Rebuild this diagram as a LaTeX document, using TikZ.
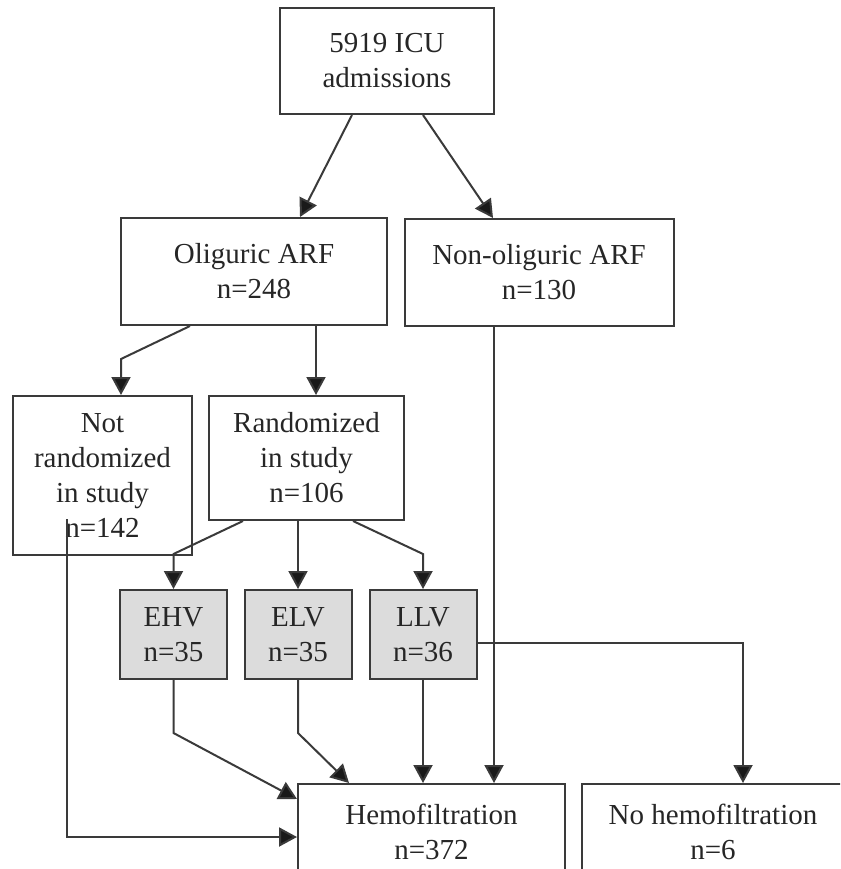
\documentclass[tikz,border=0pt]{standalone}
\usepackage{fontspec}
\setmainfont{Liberation Serif}
\usetikzlibrary{arrows.meta}
\definecolor{linegray}{HTML}{3A3A3A}
\definecolor{armgray}{HTML}{DCDCDC}
\tikzstyle{box} = [draw=linegray, line width=2pt, align=center, inner sep=0pt, text=black!85, font=\fontsize{29}{35}\selectfont]
\tikzstyle{arm} = [box, fill=armgray, minimum width=107pt, minimum height=89pt]
\tikzstyle{arrow} = [draw=linegray, line width=2pt, -{Triangle[length=18pt,width=19pt,fill=black!90]}]

\begin{document}
\begin{tikzpicture}[x=1pt,y=-1pt]
\useasboundingbox (0,0) rectangle (840,869);
\clip (0,0) rectangle (840,869);

\node[box, minimum width=214pt, minimum height=106pt] (adm) at (387,61) {5919 ICU\\admissions};

\node[box, minimum width=266pt, minimum height=107pt] (olig) at (254,271.5) {Oliguric ARF\\n=248};
\node[box, minimum width=269pt, minimum height=107pt] (nonolig) at (539,272.5) {Non-oliguric ARF\\n=130};

\node[box, minimum width=179pt, minimum height=159pt] (notrand) at (102.5,475.5) {Not\\randomized\\in study\\n=142};
\node[box, minimum width=195pt, minimum height=124pt] (rand) at (306.5,458) {Randomized\\in study\\n=106};

% treatment arms
\node[arm] (ehv) at (173.5,634.5) {EHV\\n=35};
\node[arm] (elv) at (298,634.5) {ELV\\n=35};
\node[arm] (llv) at (423,634.5) {LLV\\n=36};

\node[box, minimum width=267pt, minimum height=96pt] (hemo) at (431.5,832) {Hemofiltration\\n=372};
\node[box, minimum width=262pt, minimum height=96pt] (nohemo) at (713,832) {No hemofiltration\\n=6};

\draw[arrow] ([xshift=-35pt]adm.south) -- ([xshift=46pt]olig.north);
\draw[arrow] ([xshift=36pt]adm.south) -- ([xshift=-46pt]nonolig.north);

\draw[arrow] ([xshift=-64pt]olig.south) -- ([xshift=18.5pt,yshift=36pt]notrand.north) -- ([xshift=18.5pt]notrand.north);
\draw[arrow] ([xshift=62pt]olig.south) -- ([xshift=62pt]olig.south |- rand.north);

\draw[arrow] ([xshift=-63.5pt]rand.south) -- ([yshift=35pt]ehv.north) -- (ehv.north);
\draw[arrow] (elv.north |- rand.south) -- (elv.north);
\draw[arrow] ([xshift=46.5pt]rand.south) -- ([yshift=35pt]llv.north) -- (llv.north);

\draw[arrow] (ehv.south) -- ++(0,53) -- ([yshift=-16pt]hemo.north west);
\draw[arrow] (elv.south) -- ++(0,53) -- ([xshift=52pt]hemo.north west);
\draw[arrow] (llv.south) -- (llv.south |- hemo.north);
\draw[arrow] ([xshift=-45pt]nonolig.south) -- ([xshift=-45pt]nonolig.south |- hemo.north);
\draw[arrow] ([yshift=-8.5pt]llv.east) -| ([xshift=30pt]nohemo.north);
\draw[arrow] ([xshift=-35.5pt,yshift=-43.5pt]notrand.center) |- ([yshift=-5pt]hemo.west);
\end{tikzpicture}
\end{document}
